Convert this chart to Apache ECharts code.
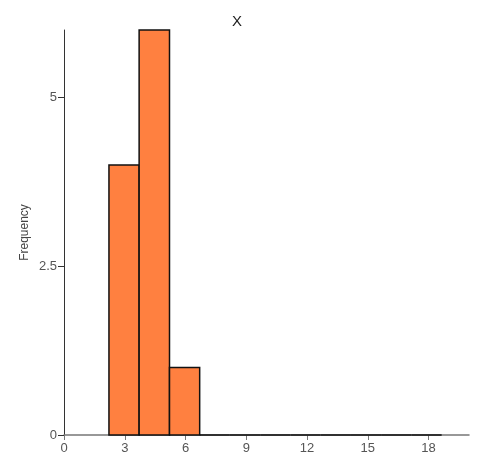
<!DOCTYPE html>
<html>
<head>
<meta charset="utf-8">
<script src="https://cdn.jsdelivr.net/npm/echarts@6/dist/echarts.min.js"></script>
<style>
  html, body { margin: 0; padding: 0; background: #fff; }
  #chart { width: 482px; height: 467px; }
</style>
</head>
<body>
<div id="chart"></div>
<script>
// histogram bins (left edge, right edge) and counts
const binStarts = [2.22, 3.71, 5.21, 6.70, 8.19, 9.69, 11.18, 12.67, 14.17, 15.66, 17.15]
const binEnds = [3.71, 5.21, 6.70, 8.19, 9.69, 11.18, 12.67, 14.17, 15.66, 17.15, 18.65]
const counts = [4, 6, 1, 0, 0, 0, 0, 0, 0, 0, 0]

const xTicks = [0, 3, 6, 9, 12, 15, 18]
const yTicks = [0, 2.5, 5]

const chart = echarts.init(document.getElementById('chart'))

const data = binStarts.map((s, i) => [s, binEnds[i], counts[i]])
const font = 'Arial, Liberation Sans, sans-serif'

const option = {
  animation: false,
  title: {
    text: 'X',
    left: 227,
    top: 9,
    textStyle: { fontSize: 15, fontWeight: 'normal', color: '#222', fontFamily: font }
  },
  grid: { left: 64, right: 13, top: 30, bottom: 32 },
  xAxis: {
    type: 'value',
    min: 0,
    max: 20,
    interval: 3,
    axisLine: { lineStyle: { color: '#777', width: 1.5 } },
    axisTick: { show: true, length: 5, customValues: xTicks, lineStyle: { color: '#777' } },
    axisLabel: {
      color: '#555',
      fontSize: 13,
      margin: 7,
      fontFamily: font,
      customValues: xTicks
    },
    splitLine: { show: false }
  },
  yAxis: {
    type: 'value',
    min: 0,
    max: 6,
    interval: 2.5,
    name: 'Frequency',
    nameLocation: 'middle',
    nameGap: 33,
    nameMoveOverlap: false,
    nameTextStyle: { fontSize: 12, color: '#444', fontFamily: font },
    axisLine: { show: true, lineStyle: { color: '#333', width: 1 } },
    axisTick: { show: true, length: 6, customValues: yTicks, lineStyle: { color: '#333' } },
    axisLabel: {
      color: '#555',
      fontSize: 13,
      margin: 7,
      fontFamily: font,
      customValues: yTicks
    },
    splitLine: { show: false }
  },
  series: [{
    type: 'custom',
    data: data,
    encode: { x: [0, 1], y: 2 },
    renderItem: function (params, api) {
      const p0 = api.coord([api.value(0), api.value(2)])
      const p1 = api.coord([api.value(1), 0])
      return {
        type: 'rect',
        shape: { x: p0[0], y: p0[1], width: p1[0] - p0[0], height: p1[1] - p0[1] },
        style: { fill: '#FF8040', stroke: '#111', lineWidth: 1.5 }
      }
    }
  }]
}

chart.setOption(option)
</script>
</body>
</html>
